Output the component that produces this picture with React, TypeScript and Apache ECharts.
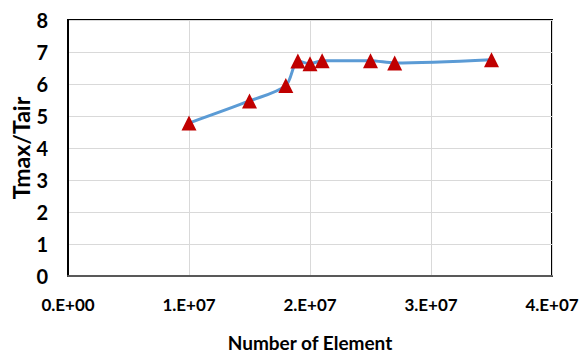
import React, { useEffect, useRef } from "react";
import * as echarts from "echarts";

const xValues = [1.0e7, 1.5e7, 1.8e7, 1.9e7, 2.0e7, 2.1e7, 2.5e7, 2.7e7, 3.5e7];
const yValues = [4.78, 5.47, 5.95, 6.72, 6.63, 6.73, 6.73, 6.66, 6.76];
const xTitle = "Number of Element";
const yTitle = "Tmax/Tair";

const fmtX = (v: number) => {
  if (v === 0) return "0.E+00";
  return `${Math.round(v / 1e7)}.E+07`;
};

export default function App() {
  const ref = useRef<HTMLDivElement>(null);
  useEffect(() => {
    if (!ref.current) return;
    const chart = echarts.init(ref.current, undefined, { renderer: "svg" });
    const font = "Lato, 'Open Sans', sans-serif";
    chart.setOption({
      animation: false,
      backgroundColor: "#ffffff",
      grid: {
        left: 68,
        top: 20,
        right: 35,
        bottom: 82,
        outerBoundsMode: "none",
        containLabel: false,
        show: true,
        borderColor: "#000000",
        borderWidth: 2,
        backgroundColor: "transparent",
      },
      xAxis: {
        type: "value",
        min: 0,
        max: 4e7,
        interval: 1e7,
        name: xTitle,
        nameLocation: "middle",
        nameGap: 57,
        nameMoveOverlap: false,
        nameTextStyle: { fontFamily: font, fontWeight: "bold", fontSize: 19, color: "#000" },
        axisLine: { show: true, lineStyle: { color: "#595959", width: 2 } },
        axisTick: { show: false },
        axisLabel: {
          formatter: fmtX,
          margin: 20,
          fontFamily: font,
          fontWeight: "bold",
          fontSize: 17,
          color: "#000",
        },
        splitLine: { show: true, lineStyle: { color: "#d9d9d9", width: 1 } },
      },
      yAxis: {
        type: "value",
        min: 0,
        max: 8,
        interval: 1,
        name: yTitle,
        nameLocation: "middle",
        nameGap: 36,
        nameMoveOverlap: false,
        nameTextStyle: { fontFamily: font, fontWeight: "bold", fontSize: 23, color: "#000" },
        axisLine: { show: true, lineStyle: { color: "#000", width: 2 } },
        axisTick: { show: false },
        axisLabel: {
          margin: 20,
          fontFamily: font,
          fontWeight: "bold",
          fontSize: 20,
          color: "#000",
        },
        splitLine: { show: true, lineStyle: { color: "#d9d9d9", width: 1 } },
      },
      series: [
        {
          type: "line",
          data: xValues.map((x, i) => [x, yValues[i]]),
          smooth: 0.3,
          symbol: "triangle",
          symbolSize: 15,
          itemStyle: { color: "#c00000" },
          lineStyle: { color: "#5b9bd5", width: 3 },
        },
      ],
    });
    return () => chart.dispose();
  }, []);
  return <div ref={ref} style={{ width: 587, height: 358, position: "absolute", left: 0, top: 0 }} />;
}
